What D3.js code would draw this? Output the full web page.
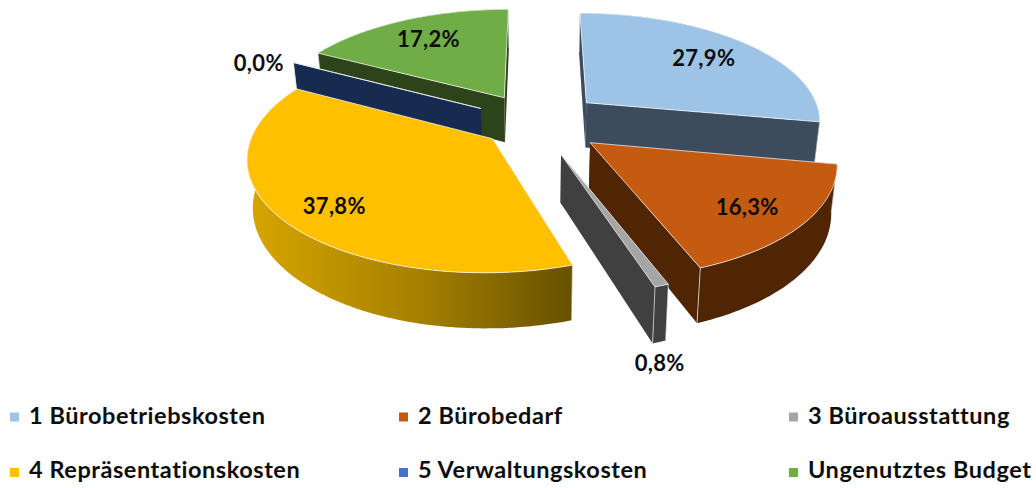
<!DOCTYPE html>
<html>
<head>
<meta charset="utf-8">
<script src="https://cdn.jsdelivr.net/npm/d3@7/dist/d3.min.js"></script>
<style>
html, body { margin: 0; padding: 0; background: #fff; }
svg { display: block; }
text { font-family: Lato, "Open Sans", sans-serif; font-weight: 700; fill: #0d0d0d; }
</style>
</head>
<body>
<svg id="myGraph" width="1036" height="488"></svg>
<script>
// chart values
var categories = ["1 Bürobetriebskosten", "2 Bürobedarf", "3 Büroausstattung", "4 Repräsentationskosten", "5 Verwaltungskosten", "Ungenutztes Budget"];
var shares = [27.9, 16.3, 0.8, 37.8, 0.0, 17.2];
var shareLabels = ["27,9%", "16,3%", "0,8%", "37,8%", "0,0%", "17,2%"];

// colours
var topColors = ["#9dc3e6", "#c55a11", "#a5a5a5", "#ffc000", "#1a2c52", "#70ad47"];
var wallColors = ["#3d4c5c", "#4f2503", "#404040", "url(#yellowWall)", "#172a50", "#2d4319"];
var legendColors = ["#9dc3e6", "#c55a11", "#a5a5a5", "#ffc000", "#4472c4", "#70ad47"];

// explode distance and label placement per slice (radius fraction, degrees shift)
var explode = [0.285, 0.29, 0.305, 0.235, 0.27, 0.27];
var labelRadius = [0.73, 0.775, 1.41, 0.8, 1.14, 0.73];
var labelShift = [0, 2, 7.5, -3, -4, 0];

// order to paint the slices, back to front
var paintOrder = [5, 4, 0, 3, 1, 2];

// projection of the tilted pie plane
var centerX = 536, centerY = 122;
var scaleX = 236, scaleY = 108.4;
var perspective = 0.15;
var depth = 46;
var bottomShrink = 0.98;

var svg = d3.select("#myGraph");

var gradient = svg.append("defs").append("linearGradient")
    .attr("id", "yellowWall")
    .attr("gradientUnits", "userSpaceOnUse")
    .attr("x1", 250).attr("x2", 575).attr("y1", 0).attr("y2", 0);
gradient.append("stop").attr("offset", "0").attr("stop-color", "#d6a500");
gradient.append("stop").attr("offset", "0.5").attr("stop-color", "#a88200");
gradient.append("stop").attr("offset", "1").attr("stop-color", "#665000");

// plane (u, v) to screen, v grows towards the viewer
function project(u, v, bottom){
    var w = 1 / (1 - perspective * v);
    var x = scaleX * u * w;
    var y = scaleY * v * w;
    if (bottom){
        x = x * bottomShrink;
        y = y + depth * w;
    }
    return [centerX + x, centerY + y];
}

// point of slice i at given angle and radius
function slicePoint(i, slice, angle, radius, bottom){
    var mid = (slice.startAngle + slice.endAngle) / 2;
    var off = d3.pointRadial(mid, explode[i]);
    var p = d3.pointRadial(angle, radius);
    return project(p[0] + off[0], p[1] + off[1], bottom);
}

function arcPoints(i, slice, bottom){
    var n = Math.max(1, Math.ceil((slice.endAngle - slice.startAngle) / 0.02));
    return d3.range(n + 1).map(function(k){
        var a = slice.startAngle + (slice.endAngle - slice.startAngle) * k / n;
        return slicePoint(i, slice, a, 1, bottom);
    });
}

var line = d3.line();
function closedPath(points){ return line(points) + "Z"; }

var slices = d3.pie().sort(null).value(function(d){ return d; })(shares);

paintOrder.forEach(function(i){
    var s = slices[i];
    var g = svg.append("g").attr("class", "slice");
    var apexTop = slicePoint(i, s, 0, 0, false);
    var apexBottom = slicePoint(i, s, 0, 0, true);
    var topArc = arcPoints(i, s, false);
    var bottomArc = arcPoints(i, s, true);
    var last = topArc.length - 1;

    // radial walls
    [0, last].forEach(function(k){
        g.append("path")
        .attr("d", closedPath([apexTop, topArc[k], bottomArc[k], apexBottom]))
        .attr("fill", i == 3 ? "#8a6c00" : wallColors[i]);
    });

    // outer wall
    g.append("path")
    .attr("d", closedPath(topArc.concat(bottomArc.slice().reverse())))
    .attr("fill", wallColors[i]);

    // light corner lines at the outer edges
    [0, last].forEach(function(k){
        g.append("path")
        .attr("d", line([topArc[k], bottomArc[k]]))
        .attr("fill", "none")
        .attr("stroke", "#fff")
        .attr("stroke-opacity", 0.65)
        .attr("stroke-width", 1);
    });

    // top face
    g.append("path")
    .attr("d", closedPath([apexTop].concat(topArc)))
    .attr("fill", topColors[i])
    .attr("stroke", "#fff")
    .attr("stroke-opacity", 0.7)
    .attr("stroke-width", 1)
    .attr("stroke-linejoin", "round");
});

// percent labels
slices.forEach(function(s, i){
    var mid = (s.startAngle + s.endAngle) / 2 + labelShift[i] * Math.PI / 180;
    var p = slicePoint(i, s, mid, labelRadius[i], false);
    svg.append("text")
    .attr("x", p[0])
    .attr("y", p[1])
    .attr("dy", "0.35em")
    .attr("text-anchor", "middle")
    .style("font-size", "22px")
    .style("letter-spacing", "0.3px")
    .text(shareLabels[i]);
});

// legend, 3 columns and 2 rows
var legendX = [10, 399, 789];
var markerY = [417, 472.5];
var baselineY = [424, 478];
categories.forEach(function(name, i){
    var x = legendX[i % 3];
    var row = Math.floor(i / 3);
    svg.append("rect")
    .attr("x", x).attr("y", markerY[row] - 4.5)
    .attr("width", 9).attr("height", 9)
    .attr("fill", legendColors[i]);
    svg.append("text")
    .attr("x", x + 19)
    .attr("y", baselineY[row])
    .style("font-size", "23.5px")
    .style("letter-spacing", "0.55px")
    .text(name);
});
</script>
</body>
</html>
